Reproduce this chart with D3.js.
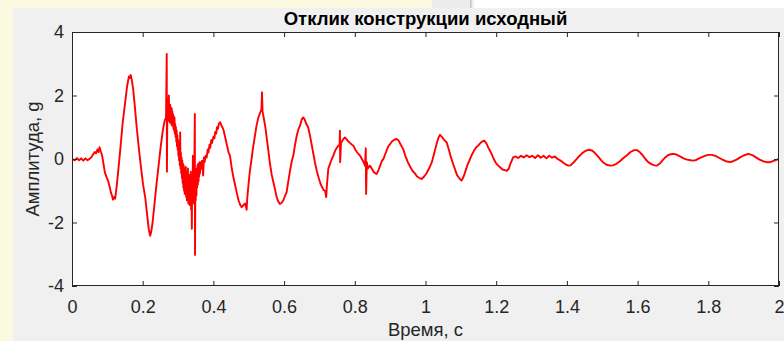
<!DOCTYPE html>
<html>
<head>
<meta charset="utf-8">
<script src="https://cdn.jsdelivr.net/npm/d3@7"></script>
<style>
  html, body { margin: 0; padding: 0; background: #f0f0f0; }
  svg { display: block; }
</style>
</head>
<body>
<svg id="chart" width="784" height="341"></svg>
<script>
const titleText = "Отклик конструкции исходный";
const xLabelText = "Время, с";
const yLabelText = "Амплитуда, g";
const xTicks = [0, 0.2, 0.4, 0.6, 0.8, 1, 1.2, 1.4, 1.6, 1.8, 2];
const yTicks = [-4, -2, 0, 2, 4];
const xDomain = [0, 2];
const yDomain = [-4, 4];
// [time s, amplitude g]
const signal = [
[0.000,0.00],[0.008,-0.04],[0.014,0.03],[0.020,-0.04],[0.026,0.02],[0.032,-0.05],[0.038,0.02],[0.044,-0.04],[0.050,0.01],[0.055,0.06],
[0.060,0.15],[0.064,0.22],[0.068,0.18],[0.072,0.30],[0.075,0.22],[0.078,0.37],[0.081,0.25],[0.085,0.12],[0.089,-0.15],[0.093,-0.42],
[0.098,-0.58],[0.102,-0.68],[0.106,-0.85],[0.110,-1.05],[0.113,-1.15],[0.116,-1.28],[0.119,-1.20],[0.122,-1.25],[0.126,-0.90],[0.131,-0.35],
[0.137,0.35],[0.143,1.10],[0.150,1.75],[0.156,2.30],[0.161,2.60],[0.164,2.55],[0.166,2.65],[0.169,2.50],[0.173,2.20],[0.177,1.75],
[0.183,1.00],[0.189,0.35],[0.195,-0.25],[0.201,-0.80],[0.207,-1.20],[0.212,-1.70],[0.217,-2.20],[0.221,-2.42],[0.224,-2.30],[0.228,-2.00],
[0.233,-1.45],[0.239,-0.80],[0.245,-0.20],[0.251,0.40],[0.257,0.90],[0.262,1.20],[0.266,1.30],[0.268,3.31],[0.2685,-0.40],
[0.270,1.90],[0.271,1.30],[0.272,1.75],[0.273,1.20],[0.274,2.00],[0.275,1.25],[0.276,1.60],[0.277,1.15],[0.278,1.70],[0.279,1.20],
[0.280,1.55],[0.281,1.10],[0.282,1.60],[0.283,1.05],[0.284,1.50],[0.285,1.10],[0.286,1.40],[0.287,0.95],[0.288,1.35],[0.289,0.90],
[0.290,1.30],[0.291,0.80],[0.292,1.10],[0.293,0.70],[0.294,1.00],[0.295,0.55],[0.296,0.90],[0.297,0.40],[0.298,0.75],[0.299,0.30],
[0.300,0.60],[0.301,0.10],[0.302,0.50],[0.303,-0.05],[0.304,0.35],[0.305,-0.20],[0.306,0.84],[0.307,-0.30],[0.308,0.20],[0.309,-0.45],
[0.310,0.05],[0.311,-0.60],[0.312,-0.05],[0.313,-0.75],[0.314,-0.15],[0.315,-0.90],[0.316,-0.20],[0.317,-1.00],[0.318,-0.30],[0.319,-1.10],
[0.320,-0.35],[0.321,-0.84],[0.322,-0.25],[0.323,-1.20],[0.324,-0.40],[0.325,-1.30],[0.326,-0.50],[0.327,-1.00],[0.328,-0.30],[0.329,-1.40],
[0.330,-0.60],[0.331,-1.25],[0.332,-0.50],[0.333,-1.45],[0.334,-0.70],[0.335,-1.20],[0.336,-0.40],[0.337,-1.60],[0.338,-0.50],[0.339,-2.20],
[0.340,-0.60],[0.341,-1.30],[0.342,0.10],[0.343,-1.10],[0.344,-0.20],[0.345,-1.40],[0.346,-0.30],[0.3475,1.42],[0.348,-3.02],[0.349,-0.60],
[0.350,-1.30],[0.351,-0.40],[0.352,-1.15],[0.353,-0.30],[0.354,-0.90],[0.355,-0.20],[0.356,-0.80],[0.357,-0.15],[0.358,-0.70],[0.359,-0.20],
[0.360,-0.55],[0.361,-0.10],[0.362,-0.45],[0.364,-0.10],[0.366,-0.30],[0.368,-0.05],[0.371,-0.52],[0.373,0.05],[0.375,-0.10],[0.378,0.10],
[0.381,0.05],[0.384,0.30],[0.386,0.20],[0.389,0.45],[0.391,0.35],[0.394,0.60],[0.396,0.50],[0.400,0.70],[0.403,0.65],[0.405,0.85],
[0.408,0.80],[0.410,1.00],[0.413,0.95],[0.415,1.10],[0.419,1.16],[0.423,1.05],[0.428,0.94],[0.433,0.70],[0.438,0.45],[0.443,0.20],
[0.447,0.10],[0.452,-0.30],[0.457,-0.60],[0.462,-0.85],[0.466,-1.05],[0.471,-1.30],[0.476,-1.45],[0.480,-1.52],[0.485,-1.45],[0.490,-1.40],
[0.494,-1.60],[0.496,-1.20],[0.499,-0.84],[0.503,-0.40],[0.508,0.00],[0.512,0.35],[0.517,0.70],[0.522,1.05],[0.527,1.30],[0.532,1.45],
[0.536,1.57],[0.5375,2.10],[0.539,1.50],[0.543,1.26],[0.547,1.00],[0.551,0.65],[0.555,0.31],[0.560,-0.15],[0.565,-0.50],[0.570,-0.75],
[0.574,-0.94],[0.579,-1.20],[0.584,-1.35],[0.588,-1.42],[0.593,-1.38],[0.598,-1.30],[0.603,-1.15],[0.607,-1.05],[0.612,-0.70],[0.617,-0.35],
[0.622,-0.05],[0.626,0.10],[0.631,0.45],[0.636,0.75],[0.641,0.95],[0.645,1.05],[0.650,1.25],[0.654,1.31],[0.658,1.25],[0.663,1.10],
[0.668,1.00],[0.673,0.75],[0.678,0.45],[0.683,0.15],[0.688,-0.15],[0.693,-0.40],[0.698,-0.60],[0.703,-0.78],[0.708,-0.90],[0.712,-0.98],
[0.716,-1.00],[0.719,-1.20],[0.721,-0.85],[0.725,-0.31],[0.730,-0.15],[0.735,0.00],[0.739,0.10],[0.744,0.25],[0.749,0.35],[0.753,0.42],
[0.757,0.45],[0.758,0.89],[0.7585,-0.10],[0.761,0.50],[0.766,0.60],[0.772,0.68],[0.777,0.62],[0.782,0.55],[0.787,0.50],[0.792,0.45],
[0.796,0.42],[0.801,0.30],[0.806,0.22],[0.811,0.15],[0.815,0.10],[0.820,0.00],[0.825,-0.10],[0.829,-0.21],[0.831,0.34],[0.832,-1.10],
[0.834,-0.10],[0.837,-0.30],[0.843,-0.21],[0.848,-0.30],[0.853,-0.40],[0.858,-0.45],[0.862,-0.47],[0.867,-0.35],[0.872,-0.20],[0.877,-0.05],
[0.881,0.00],[0.886,0.15],[0.891,0.30],[0.896,0.42],[0.900,0.47],[0.905,0.55],[0.911,0.60],[0.918,0.63],[0.924,0.58],[0.930,0.45],
[0.937,0.31],[0.943,0.10],[0.950,-0.10],[0.957,-0.25],[0.963,-0.37],[0.970,-0.45],[0.976,-0.55],[0.983,-0.60],[0.989,-0.63],[0.996,-0.55],
[1.003,-0.45],[1.010,-0.30],[1.018,-0.10],[1.025,0.20],[1.032,0.50],[1.037,0.68],[1.041,0.76],[1.046,0.70],[1.053,0.60],[1.060,0.52],
[1.066,0.30],[1.072,0.05],[1.078,-0.15],[1.083,-0.31],[1.089,-0.50],[1.095,-0.60],[1.102,-0.68],[1.108,-0.55],[1.114,-0.35],[1.120,-0.15],
[1.126,0.00],[1.132,0.15],[1.138,0.28],[1.144,0.38],[1.149,0.42],[1.155,0.50],[1.160,0.55],[1.166,0.58],[1.172,0.50],[1.178,0.35],
[1.183,0.25],[1.187,0.16],[1.193,0.00],[1.199,-0.12],[1.205,-0.20],[1.211,-0.26],[1.218,-0.33],[1.224,-0.35],[1.230,-0.37],[1.236,-0.30],
[1.240,-0.15],[1.244,-0.05],[1.248,0.05],[1.255,0.08],[1.262,0.03],[1.270,0.10],[1.278,0.05],[1.286,0.12],[1.294,0.06],[1.302,0.10],
[1.310,0.03],[1.318,0.12],[1.326,0.04],[1.334,0.10],[1.342,0.02],[1.350,0.10],[1.358,0.04],[1.366,0.08],[1.374,0.00],[1.382,-0.05],
[1.390,-0.12],[1.398,-0.18],[1.404,-0.21],[1.410,-0.20],[1.418,-0.12],[1.426,-0.02],[1.434,0.08],[1.442,0.17],[1.450,0.24],[1.458,0.28],
[1.465,0.29],[1.472,0.26],[1.480,0.18],[1.488,0.08],[1.496,-0.03],[1.504,-0.12],[1.512,-0.18],[1.522,-0.21],[1.530,-0.20],[1.540,-0.15],
[1.550,-0.07],[1.560,0.03],[1.570,0.12],[1.580,0.22],[1.590,0.28],[1.598,0.28],[1.606,0.22],[1.614,0.12],[1.622,0.00],[1.630,-0.10],
[1.640,-0.17],[1.648,-0.20],[1.654,-0.21],[1.662,-0.15],[1.670,-0.05],[1.678,0.05],[1.686,0.12],[1.694,0.15],[1.701,0.16],[1.710,0.14],
[1.720,0.08],[1.730,0.02],[1.740,-0.02],[1.750,-0.04],[1.758,-0.05],[1.766,-0.03],[1.774,0.02],[1.782,0.06],[1.790,0.10],[1.800,0.13],
[1.810,0.13],[1.820,0.10],[1.830,0.04],[1.840,-0.02],[1.850,-0.07],[1.861,-0.10],[1.870,-0.07],[1.880,-0.02],[1.890,0.05],[1.900,0.11],
[1.913,0.16],[1.925,0.12],[1.935,0.05],[1.945,-0.02],[1.955,-0.07],[1.965,-0.10],[1.975,-0.10],[1.985,-0.06],[1.993,-0.03],[2.000,0.00]
];

const W = 784, H = 341;
const plot = { left: 72, right: 779, top: 32, bottom: 286 };
const font = "'Liberation Sans', Arial, Helvetica, sans-serif";
const axisColor = "#262626";
const labelSize = "18px";

const svg = d3.select("#chart");

// page background pieces (screenshot surroundings)
svg.append("rect").attr("x", 0).attr("y", 0).attr("width", W).attr("height", H).attr("fill", "#f0f0f0");
svg.append("rect").attr("x", 0).attr("y", 0).attr("width", 13).attr("height", H).attr("fill", "#fbf9df");
svg.append("rect").attr("x", 0).attr("y", 0).attr("width", 432).attr("height", 8).attr("fill", "#fbf9df");
svg.append("rect").attr("x", 432).attr("y", 0).attr("width", 40).attr("height", 8).attr("fill", "#ececec");
svg.append("rect").attr("x", 470).attr("y", 0).attr("width", 1.5).attr("height", 8).attr("fill", "#c4c4c4");
svg.append("rect").attr("x", 474).attr("y", 0).attr("width", W - 474).attr("height", 8).attr("fill", "#ffffff");

const x = d3.scaleLinear().domain(xDomain).range([plot.left, plot.right]);
const y = d3.scaleLinear().domain(yDomain).range([plot.bottom, plot.top]);

svg.append("rect")
  .attr("x", plot.left).attr("y", plot.top)
  .attr("width", plot.right - plot.left).attr("height", plot.bottom - plot.top)
  .attr("fill", "#ffffff");

svg.append("defs").append("clipPath").attr("id", "clip")
  .append("rect").attr("x", plot.left).attr("y", plot.top)
  .attr("width", plot.right - plot.left).attr("height", plot.bottom - plot.top);

const line = d3.line().x(d => x(d[0])).y(d => y(d[1]));
svg.append("path")
  .datum(signal)
  .attr("clip-path", "url(#clip)")
  .attr("fill", "none")
  .attr("stroke", "#ff0000")
  .attr("stroke-width", 1.9)
  .attr("stroke-linejoin", "round")
  .attr("d", line);

function styleAxis(g, showText) {
  g.select(".domain").remove();
  g.selectAll(".tick line").attr("stroke", axisColor).attr("stroke-width", 1);
  g.selectAll(".tick text")
    .attr("fill", "#262626")
    .style("font-family", font)
    .style("font-size", labelSize);
  if (!showText) g.selectAll(".tick text").remove();
}

const fmt = d => String(d);

svg.append("g").attr("transform", `translate(0,${plot.bottom})`)
  .call(d3.axisBottom(x).tickValues(xTicks).tickFormat(fmt).tickSizeInner(-5).tickSizeOuter(0).tickPadding(14))
  .call(g => styleAxis(g, true));
svg.append("g").attr("transform", `translate(0,${plot.top})`)
  .call(d3.axisTop(x).tickValues(xTicks).tickSizeInner(-5).tickSizeOuter(0))
  .call(g => styleAxis(g, false));
svg.append("g").attr("transform", `translate(${plot.left},0)`)
  .call(d3.axisLeft(y).tickValues(yTicks).tickFormat(fmt).tickSizeInner(-5).tickSizeOuter(0).tickPadding(8))
  .call(g => styleAxis(g, true));
svg.append("g").attr("transform", `translate(${plot.right},0)`)
  .call(d3.axisRight(y).tickValues(yTicks).tickSizeInner(-5).tickSizeOuter(0))
  .call(g => styleAxis(g, false));

svg.append("rect")
  .attr("x", plot.left + 0.5).attr("y", plot.top + 0.5)
  .attr("width", plot.right - plot.left - 1).attr("height", plot.bottom - plot.top - 1)
  .attr("fill", "none").attr("stroke", axisColor).attr("stroke-width", 1);

svg.append("text")
  .attr("x", (plot.left + plot.right) / 2).attr("y", 25)
  .attr("text-anchor", "middle")
  .style("font-family", font).style("font-size", "18.5px").style("font-weight", "bold")
  .attr("fill", "#000")
  .text(titleText);

svg.append("text")
  .attr("x", (plot.left + plot.right) / 2).attr("y", 336)
  .attr("text-anchor", "middle")
  .style("font-family", font).style("font-size", "18.5px")
  .attr("fill", "#262626")
  .text(xLabelText);

svg.append("text")
  .attr("transform", `translate(39,${(plot.top + plot.bottom) / 2}) rotate(-90)`)
  .attr("text-anchor", "middle")
  .style("font-family", font).style("font-size", "18.5px")
  .attr("fill", "#262626")
  .text(yLabelText);
</script>
</body>
</html>
